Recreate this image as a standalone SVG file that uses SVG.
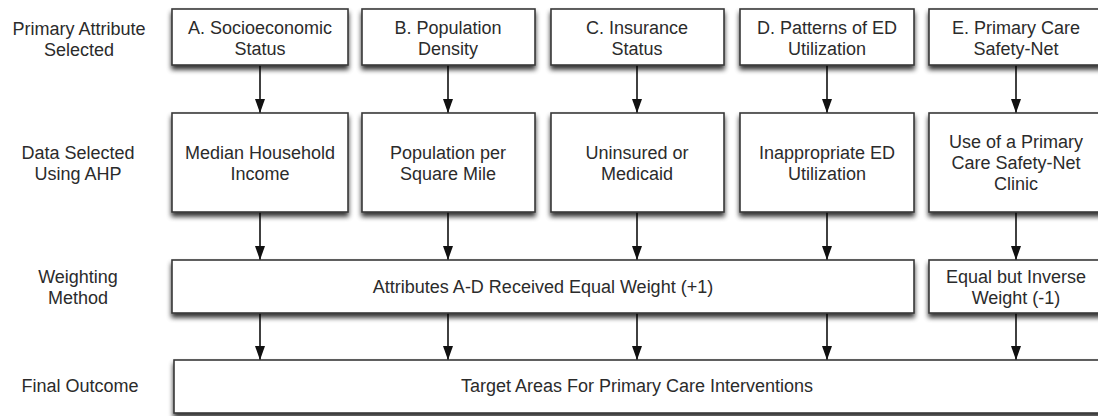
<svg xmlns="http://www.w3.org/2000/svg" width="1098" height="416" viewBox="0 0 1098 416">
<style>
.box{fill:#fff;stroke:#3a3a3a;stroke-width:1.6;filter:url(#sh)}
text{font-family:"Liberation Sans",Arial,sans-serif;font-size:18px;fill:#2b2b2b;text-anchor:middle}
.c{stroke:#111;stroke-width:1.6;fill:none;marker-end:url(#ah)}
</style>
<defs>
<filter id="sh" x="-5%" y="-20%" width="110%" height="150%">
<feGaussianBlur in="SourceAlpha" stdDeviation="2.5"/>
<feOffset dx="0" dy="4" result="b"/>
<feComponentTransfer><feFuncA type="linear" slope="0.8"/></feComponentTransfer>
<feMerge><feMergeNode/><feMergeNode in="SourceGraphic"/></feMerge>
</filter>
<marker id="ah" viewBox="0 0 14 10" refX="14" refY="5" markerWidth="14" markerHeight="10" markerUnits="userSpaceOnUse" orient="auto">
<path d="M0,0 L14,5 L0,10 z" fill="#111"/>
</marker>
</defs>
<rect width="1098" height="416" fill="#fff"/>
<g id="labels">
<text x="79" y="35">Primary Attribute</text>
<text x="79" y="56">Selected</text>
<text x="78" y="159">Data Selected</text>
<text x="78" y="180">Using AHP</text>
<text x="78" y="283">Weighting</text>
<text x="78" y="304">Method</text>
<text x="80" y="392">Final Outcome</text>
</g>
<g id="connectors">
<line class="c" x1="260" y1="65" x2="260" y2="113"/>
<line class="c" x1="448" y1="65" x2="448" y2="113"/>
<line class="c" x1="637" y1="65" x2="637" y2="113"/>
<line class="c" x1="827" y1="65" x2="827" y2="113"/>
<line class="c" x1="1016" y1="65" x2="1016" y2="113"/>
<line class="c" x1="260" y1="212" x2="260" y2="260"/>
<line class="c" x1="448" y1="212" x2="448" y2="260"/>
<line class="c" x1="637" y1="212" x2="637" y2="260"/>
<line class="c" x1="827" y1="212" x2="827" y2="260"/>
<line class="c" x1="1016" y1="212" x2="1016" y2="260"/>
<line class="c" x1="260" y1="313" x2="260" y2="360"/>
<line class="c" x1="448" y1="313" x2="448" y2="360"/>
<line class="c" x1="637" y1="313" x2="637" y2="360"/>
<line class="c" x1="827" y1="313" x2="827" y2="360"/>
<line class="c" x1="1016" y1="313" x2="1016" y2="360"/>
</g>
<g id="nodeA1"><rect class="box" x="172" y="9" width="176" height="56"/><text x="260" y="34">A. Socioeconomic</text><text x="260" y="55">Status</text></g>
<g id="nodeB1"><rect class="box" x="362" y="9" width="173" height="56"/><text x="448" y="34">B. Population</text><text x="448" y="55">Density</text></g>
<g id="nodeC1"><rect class="box" x="551" y="9" width="173" height="56"/><text x="637" y="34">C. Insurance</text><text x="637" y="55">Status</text></g>
<g id="nodeD1"><rect class="box" x="740" y="9" width="174" height="56"/><text x="827" y="34">D. Patterns of ED</text><text x="827" y="55">Utilization</text></g>
<g id="nodeE1"><rect class="box" x="929" y="9" width="175" height="56"/><text x="1016" y="34">E. Primary Care</text><text x="1016" y="55">Safety-Net</text></g>
<g id="nodeA2"><rect class="box" x="172" y="113" width="176" height="99"/><text x="260" y="159">Median Household</text><text x="260" y="180">Income</text></g>
<g id="nodeB2"><rect class="box" x="362" y="113" width="173" height="99"/><text x="448" y="159">Population per</text><text x="448" y="180">Square Mile</text></g>
<g id="nodeC2"><rect class="box" x="551" y="113" width="173" height="99"/><text x="637" y="159">Uninsured or</text><text x="637" y="180">Medicaid</text></g>
<g id="nodeD2"><rect class="box" x="740" y="113" width="174" height="99"/><text x="827" y="159">Inappropriate ED</text><text x="827" y="180">Utilization</text></g>
<g id="nodeE2"><rect class="box" x="929" y="113" width="175" height="99"/><text x="1016" y="148">Use of a Primary</text><text x="1016" y="169">Care Safety-Net</text><text x="1016" y="190">Clinic</text></g>
<g id="nodeW1"><rect class="box" x="172" y="260" width="742" height="53"/><text x="543" y="293">Attributes A-D Received Equal Weight (+1)</text></g>
<g id="nodeW2"><rect class="box" x="929" y="260" width="175" height="53"/><text x="1016" y="283">Equal but Inverse</text><text x="1016" y="304">Weight (-1)</text></g>
<g id="nodeF"><rect class="box" x="174" y="360" width="930" height="53"/><text x="637" y="392">Target Areas For Primary Care Interventions</text></g>
</svg>
